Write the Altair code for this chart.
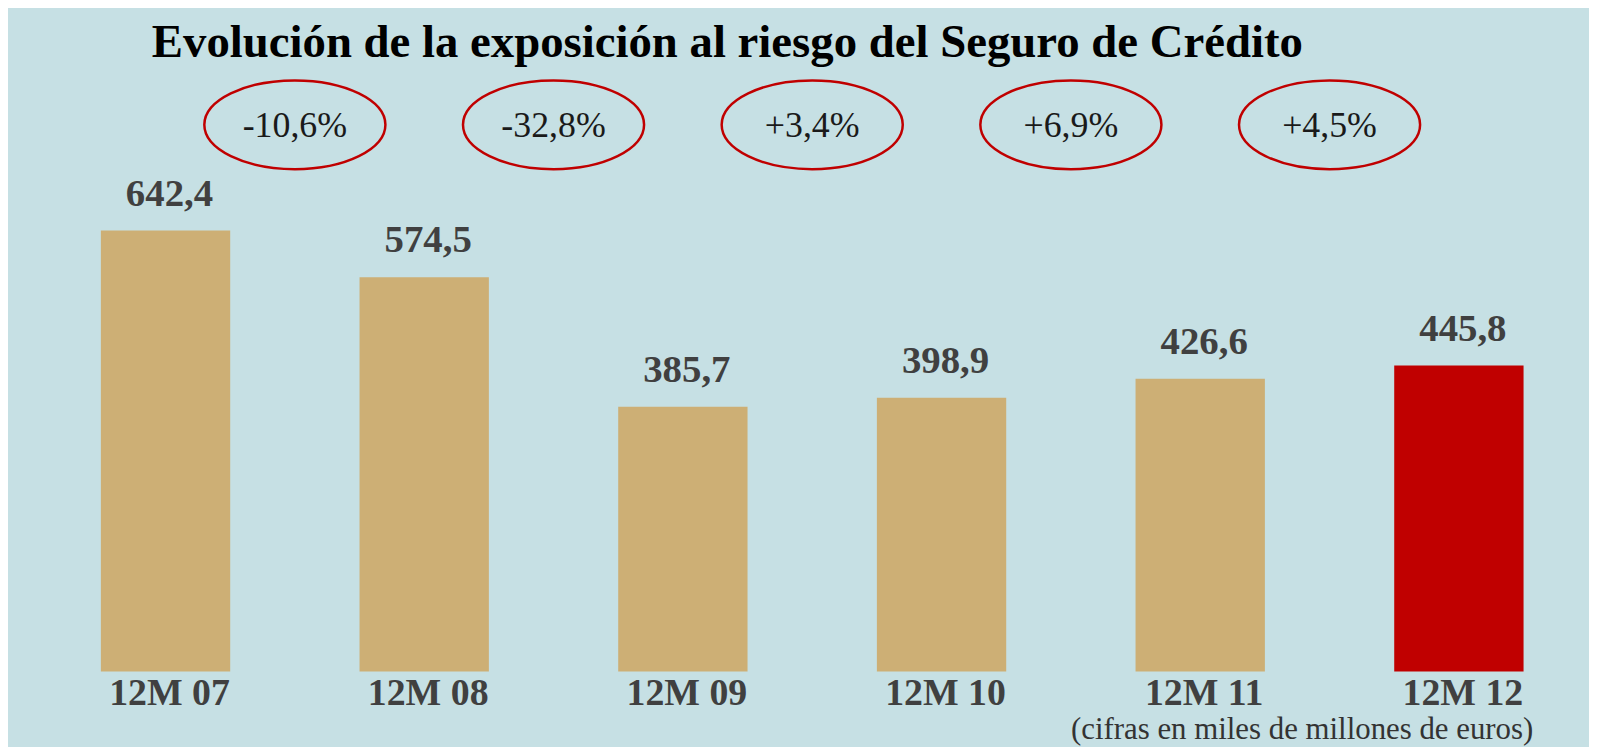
import altair as alt
import pandas as pd

# ---- data ----
periods = ["12M 07", "12M 08", "12M 09", "12M 10", "12M 11", "12M 12"]
values = [642.4, 574.5, 385.7, 398.9, 426.6, 445.8]
value_labels = ["642,4", "574,5", "385,7", "398,9", "426,6", "445,8"]
changes = ["-10,6%", "-32,8%", "+3,4%", "+6,9%", "+4,5%"]
title_text = "Evolución de la exposición al riesgo del Seguro de Crédito"
note_text = "(cifras en miles de millones de euros)"

# ---- styling ----
BG = "#C6E0E4"
TAN = "#CDAF75"
RED = "#C00000"
GREY = "#404040"
FONT = "Liberation Serif"

W, H = 1589, 665
TOTAL_H = 739

bars = pd.DataFrame({
    "idx": list(range(len(periods))),
    "period": periods,
    "value": values,
    "label": value_labels,
})
bars["x0"] = bars["idx"] - 0.25
bars["x1"] = bars["idx"] + 0.25

chg = pd.DataFrame({"mid": [i + 0.5 for i in range(len(changes))], "change": changes})

xscale = alt.Scale(domain=[-0.609, 5.503], nice=False, zero=False)
yscale = alt.Scale(domain=[0, 964], nice=False)

base = alt.Chart(bars)

bar_layer = base.mark_bar().encode(
    x=alt.X("x0:Q", scale=xscale, axis=None),
    x2="x1:Q",
    y=alt.Y("value:Q", scale=yscale, axis=None),
    y2=alt.datum(0),
    color=alt.condition(alt.datum.idx == len(periods) - 1, alt.value(RED), alt.value(TAN)),
)

value_text = base.mark_text(
    font=FONT, fontSize=39, fontWeight="bold", color=GREY, baseline="alphabetic", dy=-25, dx=4
).encode(
    x=alt.X("idx:Q", scale=xscale, axis=None),
    y=alt.Y("value:Q", scale=yscale, axis=None),
    text="label:N",
)

period_text = base.mark_text(
    font=FONT, fontSize=38, fontWeight="bold", color=GREY, baseline="alphabetic", dy=34, dx=4
).encode(
    x=alt.X("idx:Q", scale=xscale, axis=None),
    y=alt.value(H),
    text="period:N",
)

ellipse_path = "M -1 0 A 1 0.49 0 1 1 1 0 A 1 0.49 0 1 1 -1 0 Z"
ellipses = alt.Chart(chg).mark_point(
    shape=ellipse_path, size=33124, filled=False, stroke=RED, strokeWidth=2.5, opacity=1
).encode(
    x=alt.X("mid:Q", scale=xscale, axis=None),
    y=alt.value(115.5),
)

change_text = alt.Chart(chg).mark_text(
    font=FONT, fontSize=36, color="#1a1a1a", baseline="alphabetic", dy=12
).encode(
    x=alt.X("mid:Q", scale=xscale, axis=None),
    y=alt.value(115.5),
    text="change:N",
)

title = alt.Chart(pd.DataFrame({"t": [title_text]})).mark_text(
    font=FONT, fontSize=47, fontWeight="bold", color="#000000", baseline="alphabetic", align="center"
).encode(
    x=alt.value(723),
    y=alt.value(47),
    text="t:N",
)

note = alt.Chart(pd.DataFrame({"t": [note_text]})).mark_text(
    font=FONT, fontSize=31, color="#333333", baseline="alphabetic", align="right"
).encode(
    x=alt.value(1533),
    y=alt.value(733),
    text="t:N",
)

chart = alt.layer(
    bar_layer, value_text, period_text, ellipses, change_text, title, note
).properties(
    width=W,
    height=H,
    background=BG,
    autosize=alt.AutoSizeParams(type="none"),
    padding={"left": 0, "top": 0, "right": 0, "bottom": TOTAL_H - H},
).configure_view(stroke=None)

chart.save("out.html", embed_options={"renderer": "svg", "actions": False})
